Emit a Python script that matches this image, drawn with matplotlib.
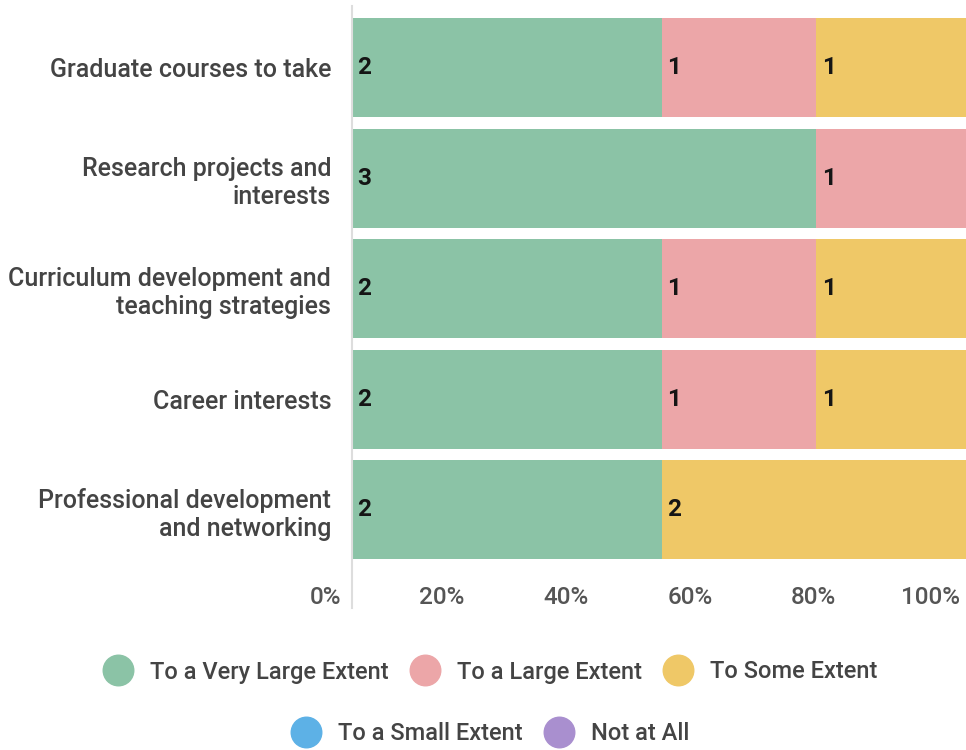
import matplotlib
matplotlib.use('Agg')
from matplotlib import pyplot as plt
from matplotlib.lines import Line2D
from matplotlib import transforms as mtransforms
import numpy as np

plt.rcParams['font.family'] = ['Roboto', 'DejaVu Sans']

categories = [
    'Graduate courses to take',
    'Research projects and\ninterests',
    'Curriculum development and\nteaching strategies',
    'Career interests',
    'Professional development\nand networking',
]
series_names = ['To a Very Large Extent', 'To a Large Extent', 'To Some Extent',
                'To a Small Extent', 'Not at All']
very_large = [2, 3, 2, 2, 2]
large = [1, 1, 1, 1, 0]
some = [1, 0, 1, 1, 2]
small = [0, 0, 0, 0, 0]
not_at_all = [0, 0, 0, 0, 0]
series_colors = ['#8bc3a6', '#eca6a8', '#efc867', '#5db1e6', '#a98fcf']
x_ticks = [0, 20, 40, 60, 80, 100]
x_ticklabels = ['0%', '20%', '40%', '60%', '80%', '100%']

counts = np.array([very_large, large, some, small, not_at_all], dtype=float)
totals = counts.sum(axis=0)
pct = counts / totals * 100

fig = plt.figure(figsize=(9.66, 7.5), dpi=100)
ax = fig.add_axes([352 / 966, 1 - 565 / 750, 619 / 966, 552.5 / 750])

y = np.arange(len(categories))
left = np.zeros(len(categories))
for i, name in enumerate(series_names):
    ax.barh(y, pct[i], left=left, height=0.9, color=series_colors[i], label=name)
    for j in range(len(categories)):
        if counts[i, j] > 0:
            ax.annotate('{:d}'.format(int(counts[i, j])), (left[j], y[j]),
                        xytext=(4, 0), textcoords='offset points',
                        ha='left', va='center', fontsize=17.5, fontweight='bold',
                        color='#151515')
    left = left + pct[i]

ax.set_xlim(0, 100)
ax.set_ylim(len(categories) - 0.5, -0.5)
ax.set_yticks(y)
ax.set_yticklabels(categories, fontsize=18, color='#444444', linespacing=1.22,
                   fontweight='medium')
ax.set_xticks(x_ticks)
ax.set_xticklabels(x_ticklabels, fontsize=17.5, color='#555555', fontweight='medium')
ax.tick_params(axis='y', length=0, pad=15)
ax.tick_params(axis='x', length=0, pad=15)
offset = mtransforms.ScaledTranslation(-11 / 100, 0, fig.dpi_scale_trans)
for lbl in ax.get_xticklabels():
    lbl.set_horizontalalignment('right')
    lbl.set_transform(lbl.get_transform() + offset)

for s in ax.spines.values():
    s.set_visible(False)
ax.axvline(0, ymin=-0.078, ymax=1.012, color='#dddddd', linewidth=1.5, clip_on=False)

handles = [Line2D([], [], linestyle='none', marker='o', markersize=22,
                  markerfacecolor=c, markeredgecolor=c) for c in series_colors]
legend_kw = dict(loc='center', frameon=False, handletextpad=0.7,
                 columnspacing=0.9, handlelength=1.3, labelcolor='#444444',
                 prop={'size': 17, 'weight': 'medium'})
leg1 = fig.legend(handles[:3], series_names[:3], ncol=3,
                  bbox_to_anchor=(490 / 966, 1 - 672 / 750), **legend_kw)
leg2 = fig.legend(handles[3:], series_names[3:], ncol=2,
                  bbox_to_anchor=(490 / 966, 1 - 734 / 750), **legend_kw)

plt.savefig('out.png', dpi=100)
plt.close()
